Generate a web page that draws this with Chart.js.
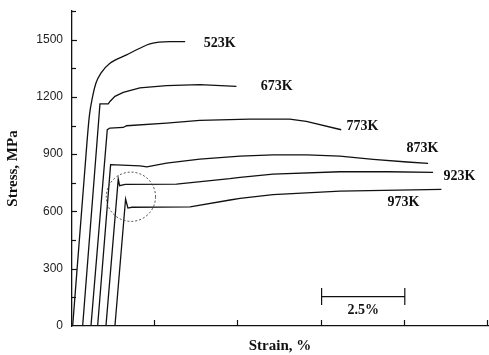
<!DOCTYPE html>
<html>
<head>
<meta charset="utf-8">
<script src="https://cdn.jsdelivr.net/npm/chart.js@4.4.1/dist/chart.umd.min.js"></script>
<style>
    html, body { margin: 0; padding: 0; background: #fff; }
    #wrap { width: 489px; height: 355px; }
</style>
</head>
<body>
<div id="wrap"><canvas id="stressChart" width="489" height="355"></canvas></div>
<script>
// strain in %, stress in MPa
const strain523 = [0.02, 0.37, 0.52, 0.62, 0.72, 0.87, 1.14, 1.64, 2.04, 2.34, 2.94, 3.40];
const stress523 = [0, 783, 1098, 1203, 1273, 1325, 1376, 1420, 1455, 1478, 1490, 1490];

const strain673 = [0.32, 0.67, 0.84, 1.09, 1.14, 1.29, 1.54, 2.04, 2.84, 3.84, 4.94];
const stress673 = [0, 782, 1163, 1163, 1176, 1203, 1224, 1247, 1259, 1264, 1255];

const strain773 = [0.57, 1.06, 1.14, 1.54, 1.64, 2.84, 3.84, 5.34, 6.54, 7.04, 8.09];
const stress773 = [0, 1028, 1037, 1040, 1049, 1063, 1077, 1084, 1084, 1072, 1028];

const strain873 = [0.77, 1.16, 2.04, 2.25, 2.84, 3.84, 5.05, 6.04, 7.06, 8.05, 9.05, 10.07, 10.70];
const stress873 = [0, 845, 839, 834, 853, 874, 890, 896, 896, 890, 873, 859, 852];

const strain923 = [1.02, 1.39, 1.43, 1.60, 3.14, 4.74, 5.05, 6.04, 8.05, 9.50, 10.85];
const stress923 = [0, 770, 735, 742, 743, 772, 779, 796, 808, 808, 805];

const strain973 = [1.29, 1.61, 1.68, 1.80, 3.55, 4.75, 5.05, 6.04, 8.05, 11.10];
const stress973 = [0, 665, 618, 622, 624, 660, 668, 688, 707, 716];

const curveLabels = ['523K', '673K', '773K', '873K', '923K', '973K'];
const labelStrain = [3.96, 5.67, 8.25, 10.05, 11.16, 9.48];
const labelStress = [1479, 1254, 1046, 928, 785, 650];
// the 523K curve is a smooth work-hardening curve, the others have sharp yield points
const smoothCurve = [true, false, false, false, false, false];

const yMajorTicks = [0, 300, 600, 900, 1200, 1500];

// 2.5% scale bar and the dotted circle round the yield drops
const scaleBarStrain = [7.5, 10.0];
const scaleBarStress = 154;
const scaleBarText = '2.5%';
const circleStrain = 1.77;
const circleStress = 677;
const circleRadiusStrain = 0.74;

function toPoints(xs, ys) {
    return xs.map((x, i) => ({ x: x, y: ys[i] }));
}

const seriesList = [
    toPoints(strain523, stress523),
    toPoints(strain673, stress673),
    toPoints(strain773, stress773),
    toPoints(strain873, stress873),
    toPoints(strain923, stress923),
    toPoints(strain973, stress973)
];

const serifBold = '"Liberation Serif", "Times New Roman", serif';

const extrasPlugin = {
    id: 'extras',
    afterDatasetsDraw(chart) {
        const ctx = chart.ctx;
        const xs = chart.scales.x;
        const ys = chart.scales.y;
        const area = chart.chartArea;
        ctx.save();
        ctx.strokeStyle = '#111';
        ctx.lineWidth = 1.2;

        // inward tick marks
        ys.ticks.forEach(t => {
            if (t.value === 0) return;
            const py = Math.round(ys.getPixelForValue(t.value)) + 0.5;
            const len = yMajorTicks.includes(t.value) ? 5 : 4;
            ctx.beginPath();
            ctx.moveTo(area.left, py);
            ctx.lineTo(area.left + len, py);
            ctx.stroke();
        });
        xs.ticks.forEach(t => {
            if (t.value === 0) return;
            const px = Math.round(xs.getPixelForValue(t.value)) - 0.5;
            ctx.beginPath();
            ctx.moveTo(px, area.bottom);
            ctx.lineTo(px, area.bottom - 6);
            ctx.stroke();
        });

        // scale bar
        const bx1 = xs.getPixelForValue(scaleBarStrain[0]);
        const bx2 = xs.getPixelForValue(scaleBarStrain[1]);
        const by = ys.getPixelForValue(scaleBarStress);
        ctx.beginPath();
        ctx.moveTo(bx1, by); ctx.lineTo(bx2, by);
        ctx.moveTo(bx1, by - 8.5); ctx.lineTo(bx1, by + 8.5);
        ctx.moveTo(bx2, by - 8.5); ctx.lineTo(bx2, by + 8.5);
        ctx.stroke();
        ctx.fillStyle = '#111';
        ctx.font = 'bold 14px ' + serifBold;
        ctx.textAlign = 'center';
        ctx.textBaseline = 'middle';
        ctx.fillText(scaleBarText, (bx1 + bx2) / 2, by + 14);

        // dotted circle
        const cx = xs.getPixelForValue(circleStrain);
        const cy = ys.getPixelForValue(circleStress);
        const r = xs.getPixelForValue(circleStrain + circleRadiusStrain) - cx;
        ctx.beginPath();
        ctx.setLineDash([2, 2]);
        ctx.lineWidth = 1;
        ctx.strokeStyle = '#444';
        ctx.arc(cx, cy, r, 0, Math.PI * 2);
        ctx.stroke();
        ctx.setLineDash([]);

        // curve labels
        ctx.textAlign = 'left';
        curveLabels.forEach((txt, i) => {
            ctx.fillText(txt, xs.getPixelForValue(labelStrain[i]), ys.getPixelForValue(labelStress[i]));
        });
        ctx.restore();
    }
};

const ctx = document.getElementById('stressChart');
new Chart(ctx, {
    type: 'scatter',
    data: {
        datasets: seriesList.map((pts, i) => ({
            label: curveLabels[i],
            data: pts,
            showLine: true,
            borderColor: '#111',
            borderWidth: 1.3,
            pointRadius: 0,
            tension: 0,
            cubicInterpolationMode: smoothCurve[i] ? 'monotone' : 'default',
            fill: false
        }))
    },
    options: {
        responsive: false,
        animation: false,
        devicePixelRatio: 1,
        layout: { padding: { top: 11, right: 1, left: 0, bottom: 0 } },
        plugins: {
            legend: { display: false },
            tooltip: { enabled: false }
        },
        scales: {
            x: {
                type: 'linear',
                min: 0,
                max: 12.5,
                ticks: { stepSize: 2.5, display: false },
                grid: { display: false, drawTicks: false },
                border: { display: true, color: '#111', width: 1.3 },
                title: {
                    display: true,
                    text: 'Strain, %',
                    color: '#111',
                    font: { family: serifBold, size: 15, weight: 'bold' },
                    padding: { top: 0, bottom: 0 }
                },
                afterFit: function(scale) { scale.height = 29; }
            },
            y: {
                type: 'linear',
                min: 0,
                max: 1650,
                ticks: {
                    stepSize: 150,
                    padding: 0,
                    color: '#222',
                    font: { family: '"Liberation Sans", Arial, sans-serif', size: 12 },
                    callback: function(v) { return yMajorTicks.includes(v) ? v : ''; }
                },
                // invisible tick marks keep the labels 9px off the axis
                grid: {
                    display: true,
                    drawOnChartArea: false,
                    drawTicks: true,
                    tickLength: 9,
                    color: 'rgba(0,0,0,0)'
                },
                border: { display: true, color: '#111', width: 1.3 },
                title: {
                    display: true,
                    text: 'Stress, MPa',
                    color: '#111',
                    font: { family: serifBold, size: 15, weight: 'bold' },
                    padding: { top: 4, bottom: 0 }
                },
                afterFit: function(scale) { scale.width = 72; }
            }
        }
    },
    plugins: [extrasPlugin]
});
</script>
</body>
</html>
